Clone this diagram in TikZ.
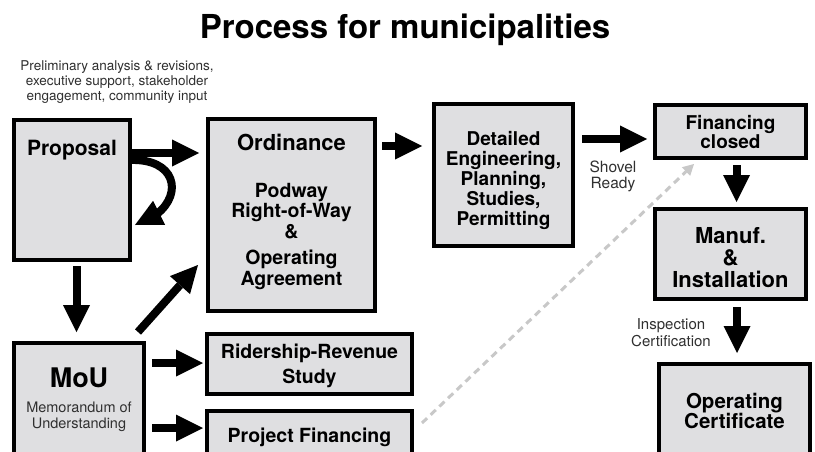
\documentclass[tikz,border=0pt]{standalone}
\usepackage{fontspec}
\setmainfont{TeX Gyre Heros}
\usetikzlibrary{arrows.meta,calc,bending}
\definecolor{boxfill}{HTML}{DFDFE1}
\definecolor{lighttext}{HTML}{303030}
\definecolor{dashgray}{HTML}{C8C8C8}
\newcommand\fsz[2]{\fontsize{#1}{#2}\selectfont}
\begin{document}
\begin{tikzpicture}[x=1pt,y=-1pt,
  box/.style={draw=black,line width=4pt,fill=boxfill,inner sep=0pt},
  bigarr/.style={line width=8pt,-{Triangle[length=27pt,width=27pt,line width=0pt]}},
  dasharr/.style={draw=dashgray,line width=3pt,dash pattern=on 7pt off 5pt,-{Triangle[length=11pt,width=12pt,line width=0pt]}},
  lbl/.style={inner sep=0pt,align=center,anchor=base},
  boldlbl/.style={lbl,font=\bfseries\fsz{#1}{#1}},
  lightlbl/.style={lbl,text=lighttext,font=\fsz{#1}{#1}}]
\useasboundingbox (0,0) rectangle (815,452);
\clip (0,0) rectangle (815,452);
\fill[white] (0,0) rectangle (815,452);

% boxes
\node[box,minimum width=116pt,minimum height=140pt] (proposal) at (72,190) {};
\node[box,minimum width=167pt,minimum height=192pt] (ordinance) at (291.5,215) {};
\node[box,minimum width=139pt,minimum height=142pt] (detailed) at (503.5,175) {};
\node[box,minimum width=151pt,minimum height=53pt] (financing) at (730.5,131.5) {};
\node[box,minimum width=151pt,minimum height=90pt] (manuf) at (730.5,254) {};
\node[box,minimum width=151pt,minimum height=130pt] (opcert) at (734.5,429) {};
\node[box,minimum width=130pt,minimum height=150pt] (mou) at (79,418) {};
\node[box,minimum width=205pt,minimum height=60pt] (ridership) at (309.5,364) {};
\node[box,minimum width=205pt,minimum height=76pt] (projfin) at (309.5,449) {};

% texts (anchor=base is the baseline of the last line)
\node[boldlbl=33] (title) at (405,39) {Process for municipalities};
\node[lightlbl=13.5,font=\fsz{13.5}{15}] (note) at (117,101) {Preliminary analysis \& revisions,\\executive support, stakeholder\\engagement, community input};
\node[boldlbl=21] (proposalT) at (72,155) {Proposal};
\node[boldlbl=22] (ordinanceT) at (291.5,150) {Ordinance};
\node[boldlbl=19.5,font=\bfseries\fsz{19.5}{20.5}] (ordinanceB) at (291.5,285) {Podway\\Right-of-Way\\\&\\[6pt]Operating\\Agreement};
\node[boldlbl=19,font=\bfseries\fsz{19}{20}] (detailedT) at (503.5,225) {Detailed\\Engineering,\\Planning,\\Studies,\\Permitting};
\node[lightlbl=15.5,font=\fsz{15.5}{15.5}] (shovel) at (613,188) {Shovel\\Ready};
\node[boldlbl=19,font=\bfseries\fsz{19}{18}] (financingT) at (730.5,148) {Financing\\closed};
\node[boldlbl=22,font=\bfseries\fsz{22}{22}] (manufT) at (730.5,287) {Manuf.\\\&\\Installation};
\node[lightlbl=15,font=\fsz{15}{17}] (inspect) at (671,346) {Inspection\\Certification};
\node[boldlbl=20.5,font=\bfseries\fsz{20.5}{20}] (opcertT) at (734.5,428) {Operating\\Certificate};
\node[boldlbl=27] (mouT) at (79,387) {MoU};
\node[lightlbl=14.5,font=\fsz{14.5}{16}] (mouSub) at (79,428) {Memorandum of\\Understanding};
\node[boldlbl=19.5,font=\bfseries\fsz{19.5}{25}] (ridershipT) at (309.5,383) {Ridership-Revenue\\Study};
\node[boldlbl=19.5] (projfinT) at (309.5,442) {Project Financing};

% connectors
\draw[bigarr,shorten >=7pt] (proposal.east |- 0,153) -- (ordinance.west |- 0,153);
\draw[bigarr] ($(proposal.east)+(-2,-30)$) .. controls ($(proposal.east)+(53,-32)$) and ($(proposal.east)+(53,20)$) .. ($(proposal.east)+(3,35)$);
\draw[bigarr,shorten <=4pt,shorten >=9pt] (76.5,0 |- proposal.south) -- (76.5,0 |- mou.north);
\draw[bigarr] ($(mou.north east)+(-8,-9)$) -- ($(ordinance.south west)+(-8,-48)$);
\draw[bigarr,shorten <=5pt,shorten >=10pt] (ordinance.east |- 0,146) -- (detailed.west |- 0,146);
\draw[bigarr,shorten <=7pt,shorten >=6pt] (detailed.east |- 0,139) -- (financing.west |- 0,139);
\draw[bigarr,shorten <=5pt,shorten >=5pt] (736.5,0 |- financing.south) -- (736.5,0 |- manuf.north);
\draw[bigarr,shorten <=6pt,shorten >=9pt] (737,0 |- manuf.south) -- (737,0 |- opcert.north);
\draw[bigarr,shorten <=6pt,shorten >=2pt] (mou.east |- 0,363) -- (ridership.west |- 0,363);
\draw[bigarr,shorten <=6pt,shorten >=2pt] (mou.east |- 0,428) -- (projfin.west |- 0,428);
\draw[dasharr] ($(projfin.north east)+(8,14)$) -- ($(financing.south west)+(41,4)$);
\end{tikzpicture}
\end{document}
